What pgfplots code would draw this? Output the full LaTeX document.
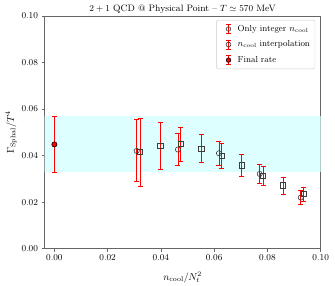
\documentclass[border=0pt]{standalone}
\usepackage{pgfplots}
\pgfplotsset{compat=1.18}
\usepackage{pgfplotstable}
\definecolor{bandcyan}{RGB}{222,255,255}
\definecolor{mkgray}{RGB}{60,60,60}
\pgfplotstableread{
x y ep em
0.0309 0.0420 0.0134 0.0133
0.0464 0.0426 0.0071 0.0069
0.0618 0.0410 0.0050 0.0053
0.0771 0.0321 0.0040 0.0041
0.0925 0.0220 0.0030 0.0030
}\intdata
\pgfplotstableread{
x y ep em
0.0322 0.0417 0.0144 0.0148
0.0398 0.0441 0.0100 0.0101
0.0475 0.0450 0.0073 0.0076
0.0552 0.0430 0.0061 0.0060
0.0628 0.0398 0.0053 0.0054
0.0704 0.0358 0.0046 0.0047
0.0784 0.0314 0.0040 0.0043
0.0859 0.0272 0.0036 0.0037
0.0936 0.0237 0.0028 0.0035
}\interpdata
\pgfplotstableread{
x y ep em
0.0 0.0448 0.0122 0.0119
}\finaldata
\newcommand{\errlegend}{\path (-9pt,0pt) (7pt,0pt);\draw[red,line width=0.8pt] (0pt,-4.5pt)--(0pt,4.5pt) (-2.5pt,-4.5pt)--(2.5pt,-4.5pt) (-2.5pt,4.5pt)--(2.5pt,4.5pt);}
\pgfplotsset{
  myerr/.style={
    error bars/.cd, y dir=both, y explicit,
    error bar style={red, line width=0.8pt},
    error mark options={rotate=90, red, mark size=2.5pt, line width=0.8pt}},
}
\begin{document}
\begin{tikzpicture}
\begin{axis}[
  name=ax,
  scale only axis,
  width=276pt, height=232.5pt,
  xmin=-0.0037, xmax=0.1,
  ymin=0, ymax=0.1,
  xtick={0,0.02,0.04,0.06,0.08,0.1},
  ytick={0,0.02,0.04,0.06,0.08,0.1},
  xticklabel style={/pgf/number format/.cd,fixed,fixed zerofill,precision=2},
  yticklabel style={/pgf/number format/.cd,fixed,fixed zerofill,precision=2},
  scaled ticks=false,
  tick align=outside,
  xtick pos=left, ytick pos=left,
  major tick length=3pt,
  tick style={black!60, line width=0.6pt},
  axis line style={black!60, line width=1pt},
  tick label style={font=\fontsize{9}{10}\selectfont},
  xlabel={$n_{\mathrm{cool}}/N_t^2$},
  ylabel={$\Gamma_{\mathrm{Sphal}}/T^4$},
  label style={font=\fontsize{10}{12}\selectfont},
  xlabel style={yshift=-4pt},
  ylabel style={yshift=-2pt},
  title={$2+1$ QCD @ Physical Point -- $T \simeq 570$ MeV},
  title style={font=\fontsize{9.3}{11}\selectfont, yshift=-7pt},
  legend style={at={(0.98,0.983)}, anchor=north east, draw=black!20, rounded corners=2pt,
    font=\fontsize{8.7}{10}\selectfont, row sep=4pt, inner sep=3pt},
  legend cell align=left,
  clip=true,
]
\addplot[fill=bandcyan, draw=none, forget plot] coordinates {(-0.01,0.0329) (0.11,0.0329) (0.11,0.0570) (-0.01,0.0570)} -- cycle;

\addplot[forget plot, only marks, color=red, mark=o, mark size=2.6pt,
  mark options={line width=0.6pt, draw=mkgray, fill=none}, myerr]
  table[x=x,y=y,y error plus=ep,y error minus=em] {\intdata};
\addplot[forget plot, only marks, color=red, mark=square, mark size=2.6pt,
  mark options={line width=0.6pt, draw=mkgray, fill=none}, myerr]
  table[x=x,y=y,y error plus=ep,y error minus=em] {\interpdata};
\addplot[forget plot, only marks, color=red, mark=*, mark size=2.6pt,
  mark options={line width=0.6pt, draw=black, fill=red}, myerr]
  table[x=x,y=y,y error plus=ep,y error minus=em] {\finaldata};

\addlegendimage{legend image code/.code={\errlegend
    \draw[mkgray,line width=0.6pt] (0pt,0pt) circle (2.3pt);}}
\addlegendentry{Only integer $n_{\mathrm{cool}}$}
\addlegendimage{legend image code/.code={\errlegend
    \draw[mkgray,line width=0.6pt] (-2.3pt,-2.3pt) rectangle (2.3pt,2.3pt);}}
\addlegendentry{$n_{\mathrm{cool}}$ interpolation}
\addlegendimage{legend image code/.code={\errlegend
    \draw[black,fill=red,line width=0.6pt] (0pt,0pt) circle (2.3pt);}}
\addlegendentry{Final rate}
\end{axis}
\pgfresetboundingbox
\path ([shift={(-44.5pt,-36.5pt)}]ax.south west) rectangle ([shift={(14.3pt,16pt)}]ax.north east);
\end{tikzpicture}
\end{document}
